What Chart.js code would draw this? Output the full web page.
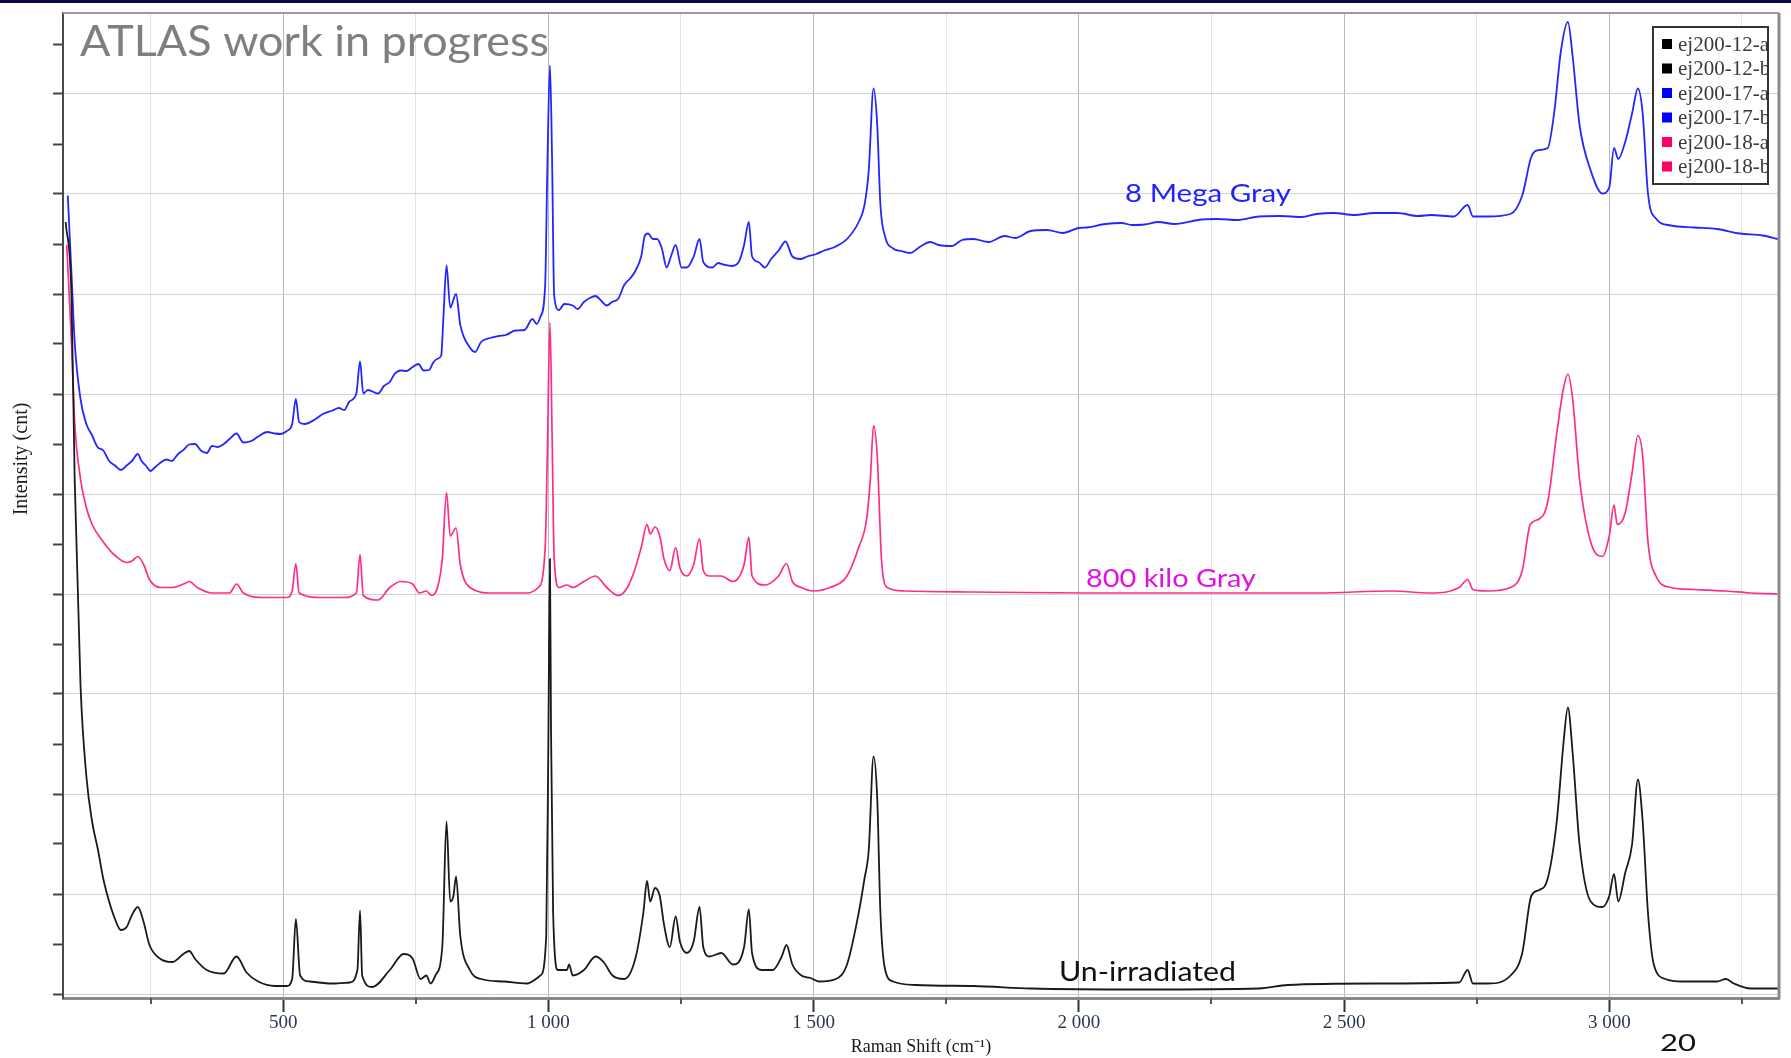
<!DOCTYPE html>
<html>
<head>
<meta charset="utf-8">
<script src="https://cdn.jsdelivr.net/npm/chart.js@4.4.1/dist/chart.umd.min.js"></script>
<style>
html,body{margin:0;padding:0;background:#fff;overflow:hidden}
#c{display:block}
</style>
</head>
<body>
<canvas id="c" width="1791" height="1058"></canvas>
<script>
// Raman spectra of EJ-200 scintillator samples: [shift (cm-1), intensity (cnt)]
const unirradiated = [[90,7720],[101,6980],[107,5150],[118,3090],[129,2180],[140,1720],[151,1440],[161,1150],[172,925],[183,750],[194,640],[205,670],[215,790],[226,870],[237,720],[248,490],[269,350],[291,320],[312,400],[323,430],[334,350],[356,240],[388,205],[412,375],[431,215],[453,125],[485,80],[507,80],[517,150],[524,750],[532,185],[550,125],[593,105],[625,115],[640,240],[645,835],[649,185],[668,70],[701,240],[727,400],[744,355],[759,150],[770,185],[778,105],[787,185],[800,470],[808,1725],[815,925],[821,980],[826,1175],[834,580],[852,240],[873,150],[916,125],[959,105],[985,185],[996,580],[1000,2525],[1003,4350],[1005,2640],[1009,810],[1018,240],[1035,240],[1039,295],[1046,185],[1067,240],[1089,375],[1104,320],[1121,185],[1143,150],[1164,355],[1179,810],[1186,1130],[1192,925],[1201,1060],[1210,980],[1218,695],[1229,470],[1240,775],[1248,525],[1261,410],[1274,525],[1285,870],[1292,470],[1304,375],[1326,410],[1348,295],[1369,470],[1378,845],[1384,410],[1402,240],[1423,240],[1440,375],[1449,490],[1460,295],[1477,185],[1494,160],[1510,125],[1542,150],[1563,295],[1585,810],[1596,1155],[1604,1440],[1613,2375],[1620,1955],[1626,810],[1635,240],[1650,125],[1693,90],[1801,80],[1909,55],[2124,45],[2340,55],[2394,90],[2556,105],[2717,115],[2733,240],[2743,105],[2771,105],[2814,185],[2836,410],[2853,980],[2868,1040],[2884,1155],[2901,1725],[2914,2525],[2922,2865],[2931,2410],[2944,1495],[2965,925],[2987,870],[3000,980],[3009,1200],[3017,925],[3030,1210],[3043,1495],[3054,2145],[3063,1725],[3073,810],[3084,295],[3106,150],[3138,125],[3203,125],[3220,150],[3235,105],[3267,55],[3318,55]];

const kiloGray800 = [[92,7490],[101,6520],[107,5720],[118,5150],[129,4865],[140,4695],[161,4520],[183,4385],[205,4315],[215,4330],[226,4375],[237,4295],[248,4145],[269,4065],[291,4065],[312,4100],[323,4125],[338,4065],[366,4010],[399,4010],[412,4100],[425,4010],[463,3965],[507,3965],[517,4030],[524,4305],[530,4010],[571,3965],[614,3965],[638,4010],[645,4395],[651,3985],[679,3940],[701,4065],[722,4125],[744,4100],[757,4010],[770,4030],[780,3985],[791,4065],[800,4350],[808,5015],[815,4580],[826,4660],[834,4295],[852,4065],[895,4010],[959,4010],[981,4065],[994,4465],[998,5380],[1003,6715],[1007,5605],[1011,4350],[1020,4065],[1035,4090],[1046,4065],[1067,4125],[1089,4180],[1110,4065],[1132,3985],[1149,4065],[1164,4260],[1175,4465],[1186,4695],[1192,4600],[1201,4670],[1210,4580],[1218,4350],[1229,4235],[1240,4465],[1248,4260],[1261,4180],[1274,4295],[1285,4555],[1292,4235],[1304,4180],[1326,4180],[1348,4125],[1369,4295],[1378,4570],[1384,4180],[1408,4090],[1434,4180],[1449,4305],[1460,4125],[1477,4065],[1499,4030],[1531,4065],[1563,4180],[1585,4465],[1600,4750],[1607,5150],[1613,5685],[1620,5380],[1628,4350],[1639,4065],[1671,4030],[1801,4020],[2016,4010],[2232,4010],[2448,4010],[2588,4030],[2664,4010],[2717,4065],[2733,4145],[2743,4045],[2771,4030],[2814,4065],[2836,4235],[2851,4695],[2868,4750],[2884,4920],[2901,5605],[2914,6065],[2922,6200],[2931,5950],[2944,5150],[2965,4520],[2987,4375],[3000,4580],[3009,4890],[3015,4695],[3030,4810],[3043,5210],[3054,5585],[3063,5380],[3073,4520],[3088,4180],[3116,4065],[3160,4045],[3220,4030],[3267,4010],[3318,4000]];

const megaGray8 = [[94,7985],[101,7205],[107,6520],[118,5950],[129,5700],[140,5585],[150,5470],[161,5435],[172,5330],[183,5285],[194,5240],[205,5285],[215,5330],[226,5400],[233,5330],[241,5285],[250,5230],[258,5265],[268,5310],[280,5345],[290,5330],[302,5400],[312,5440],[323,5495],[334,5500],[345,5435],[356,5410],[366,5480],[377,5470],[388,5500],[399,5550],[412,5605],[425,5515],[440,5530],[453,5575],[470,5620],[485,5605],[495,5600],[507,5630],[517,5700],[524,5950],[530,5720],[540,5700],[560,5745],[575,5800],[593,5835],[605,5860],[615,5840],[625,5925],[638,6005],[645,6325],[651,6005],[660,6040],[679,6005],[690,6080],[701,6120],[710,6200],[722,6235],[733,6230],[744,6270],[755,6300],[765,6235],[775,6240],[783,6315],[790,6350],[798,6385],[802,6750],[808,7285],[815,6865],[826,7000],[834,6690],[852,6465],[862,6420],[873,6520],[890,6560],[906,6580],[920,6590],[938,6635],[955,6640],[970,6750],[978,6700],[985,6770],[994,7090],[998,8235],[1003,9285],[1007,8350],[1011,6980],[1020,6840],[1030,6900],[1046,6885],[1055,6850],[1067,6920],[1078,6960],[1089,6980],[1100,6930],[1110,6885],[1120,6920],[1132,6955],[1143,7090],[1155,7160],[1164,7230],[1175,7375],[1182,7585],[1188,7605],[1197,7550],[1205,7550],[1214,7455],[1223,7265],[1231,7375],[1240,7490],[1251,7265],[1261,7265],[1274,7375],[1285,7550],[1292,7320],[1309,7265],[1320,7310],[1330,7295],[1345,7280],[1359,7320],[1369,7490],[1378,7720],[1384,7375],[1396,7320],[1408,7265],[1420,7350],[1434,7435],[1447,7525],[1460,7375],[1475,7350],[1488,7375],[1505,7400],[1520,7435],[1540,7470],[1563,7550],[1585,7720],[1596,7890],[1604,8235],[1613,9055],[1620,8690],[1626,7890],[1635,7570],[1650,7455],[1665,7430],[1682,7410],[1700,7470],[1720,7520],[1736,7490],[1760,7480],[1780,7540],[1801,7550],[1830,7520],[1860,7580],[1880,7560],[1909,7630],[1940,7640],[1970,7610],[2000,7660],[2016,7665],[2050,7700],[2081,7710],[2100,7690],[2124,7695],[2150,7720],[2180,7700],[2232,7745],[2260,7750],[2300,7740],[2340,7775],[2380,7780],[2420,7770],[2448,7800],[2480,7810],[2520,7790],[2556,7810],[2600,7810],[2640,7780],[2664,7790],[2707,7775],[2733,7890],[2743,7775],[2771,7775],[2814,7800],[2836,7985],[2853,8370],[2868,8440],[2884,8460],[2896,8805],[2909,9435],[2922,9720],[2931,9375],[2944,8690],[2965,8235],[2987,8005],[3000,8065],[3009,8460],[3017,8350],[3030,8520],[3043,8805],[3054,9055],[3063,8805],[3073,8005],[3088,7755],[3116,7685],[3160,7665],[3203,7650],[3246,7605],[3289,7585],[3318,7550]];

const xMajorTicks = [500, 1000, 1500, 2000, 2500, 3000];
const xTickLabels = ['500', '1 000', '1 500', '2 000', '2 500', '3 000'];
const xMinorTicks = [250, 750, 1250, 1750, 2250, 2750, 3250];
const yTicks = [0,500,1000,1500,2000,2500,3000,3500,4000,4500,5000,5500,6000,6500,7000,7500,8000,8500,9000,9500];

const legendNames = ['ej200-12-a', 'ej200-12-b', 'ej200-17-a', 'ej200-17-b', 'ej200-18-a', 'ej200-18-b'];
const legendColors = ['#000000', '#000000', '#0000ff', '#0000ff', '#ff0066', '#ff0066'];

const toPoints = arr => arr.map(p => ({x: p[0], y: p[1]}));

// Draw text with a given left x, baseline, cap height and total width
function fitText(ctx, text, x, baseline, capH, width, family, color, weight) {
  const size = capH / 0.72;
  ctx.save();
  ctx.font = (weight || '400') + ' ' + size + 'px ' + family;
  const w = ctx.measureText(text).width;
  ctx.translate(x, baseline);
  ctx.scale(width / w, 1);
  ctx.fillStyle = color;
  ctx.textBaseline = 'alphabetic';
  ctx.textAlign = 'left';
  ctx.fillText(text, 0, 0);
  ctx.restore();
}

const decor = {
  id: 'decor',
  beforeDraw(chart) {
    const ctx = chart.ctx;
    ctx.save();
    ctx.fillStyle = '#ffffff';
    ctx.fillRect(0, 0, chart.width, chart.height);
    ctx.fillStyle = '#08084a';
    ctx.fillRect(0, 0, chart.width, 3);
    ctx.restore();
  },
  afterDraw(chart) {
    const ctx = chart.ctx;
    const a = chart.chartArea;
    const xs = chart.scales.x;
    ctx.save();
    // frame: top and right edges
    ctx.strokeStyle = '#9a9a9a';
    ctx.lineWidth = 2;
    ctx.beginPath();
    ctx.moveTo(a.left, a.top);
    ctx.lineTo(a.right, a.top);
    ctx.stroke();
    ctx.lineWidth = 3;
    ctx.strokeStyle = '#8a8a8a';
    ctx.beginPath();
    ctx.moveTo(a.right, a.top);
    ctx.lineTo(a.right, a.bottom + 1);
    ctx.stroke();
    // minor x tick marks
    ctx.strokeStyle = '#555';
    ctx.lineWidth = 2;
    xMinorTicks.forEach(v => {
      const px = Math.round(xs.getPixelForValue(v));
      ctx.beginPath();
      ctx.moveTo(px, a.bottom);
      ctx.lineTo(px, a.bottom + 6);
      ctx.stroke();
    });
    // axis titles
    ctx.fillStyle = '#1a1a1a';
    ctx.font = '18px "Liberation Serif"';
    ctx.textAlign = 'center';
    ctx.textBaseline = 'alphabetic';
    ctx.fillText('Raman Shift (cm\u207B\u00B9)', (a.left + a.right) / 2, 1052);
    ctx.save();
    ctx.translate(27, 459);
    ctx.rotate(-Math.PI / 2);
    ctx.font = '20px "Liberation Serif"';
    ctx.fillText('Intensity (cnt)', 0, 0);
    ctx.restore();
    // legend box; entry names run past its right edge and are cut there
    const lx = 1653, ly = 27, lw = 115, lh = 157;
    ctx.fillStyle = '#ffffff';
    ctx.fillRect(lx, ly, lw, lh);
    ctx.save();
    ctx.beginPath();
    ctx.rect(lx, ly, lw, lh);
    ctx.clip();
    ctx.font = '21px "Liberation Serif"';
    ctx.textAlign = 'left';
    ctx.textBaseline = 'middle';
    legendNames.forEach((name, i) => {
      const cy = 44 + i * 24.5;
      ctx.fillStyle = legendColors[i];
      ctx.fillRect(1662, cy - 5, 10, 10);
      ctx.fillStyle = '#3a3a3a';
      ctx.fillText(name, 1678, cy + 1);
    });
    ctx.restore();
    ctx.strokeStyle = '#333';
    ctx.lineWidth = 2;
    ctx.strokeRect(lx, ly, lw, lh);
    // annotations
    const sans = 'Lato, "Open Sans", sans-serif';
    fitText(ctx, 'ATLAS work in progress', 80, 56, 30, 469, sans, '#7f7f7f');
    fitText(ctx, '8 Mega Gray', 1125, 202, 18, 166, sans, '#1f1fff');
    fitText(ctx, '800 kilo Gray', 1086, 587, 18, 170, sans, '#e010e0');
    fitText(ctx, 'Un-irradiated', 1059, 981, 19, 177, sans, '#111111');
    fitText(ctx, '20', 1660, 1051, 17, 36, sans, '#111111');
    ctx.restore();
  }
};

const ctx = document.getElementById('c').getContext('2d');
new Chart(ctx, {
  type: 'line',
  data: {
    datasets: [
      {label: 'ej200-12', data: toPoints(unirradiated), borderColor: '#1a1a1a', borderWidth: 1.8},
      {label: 'ej200-17', data: toPoints(megaGray8), borderColor: '#2525ff', borderWidth: 1.8},
      {label: 'ej200-18', data: toPoints(kiloGray800), borderColor: '#ff2d8a', borderWidth: 1.7}
    ]
  },
  options: {
    responsive: false,
    animation: false,
    events: [],
    elements: {point: {radius: 0}, line: {cubicInterpolationMode: 'monotone'}},
    layout: {padding: {left: 0, top: 13, right: 12, bottom: 0}},
    plugins: {legend: {display: false}, tooltip: {enabled: false}},
    scales: {
      x: {
        type: 'linear',
        min: 85,
        max: 3320,
        afterBuildTicks: s => { s.ticks = xMajorTicks.concat(xMinorTicks).sort((p, q) => p - q).map(v => ({value: v})); },
        afterFit: s => { s.height = 60; },
        ticks: {
          autoSkip: false,
          maxRotation: 0,
          padding: 0,
          color: '#2b3550',
          font: {family: '"Liberation Serif"', size: 19},
          callback: v => { const i = xMajorTicks.indexOf(v); return i >= 0 ? xTickLabels[i] : ''; }
        },
        grid: {
          color: c => xMajorTicks.includes(c.tick.value) ? '#b8b8b8' : '#e4e4e4',
          tickColor: c => xMajorTicks.includes(c.tick.value) ? '#333' : 'rgba(0,0,0,0)',
          tickLength: 14,
          tickWidth: 2,
          lineWidth: 1
        },
        border: {color: '#8a8a8a', width: 3}
      },
      y: {
        type: 'linear',
        min: -40,
        max: 9810,
        afterBuildTicks: s => { s.ticks = yTicks.map(v => ({value: v})); },
        afterFit: s => { s.width = 63; },
        ticks: {display: false},
        grid: {
          color: c => c.tick.value % 1000 === 0 ? '#d2d2d2' : 'rgba(0,0,0,0)',
          tickColor: '#444',
          tickLength: 10,
          tickWidth: 2,
          lineWidth: 1
        },
        border: {color: '#4a4a4a', width: 2}
      }
    }
  },
  plugins: [decor]
});
</script>
</body>
</html>
